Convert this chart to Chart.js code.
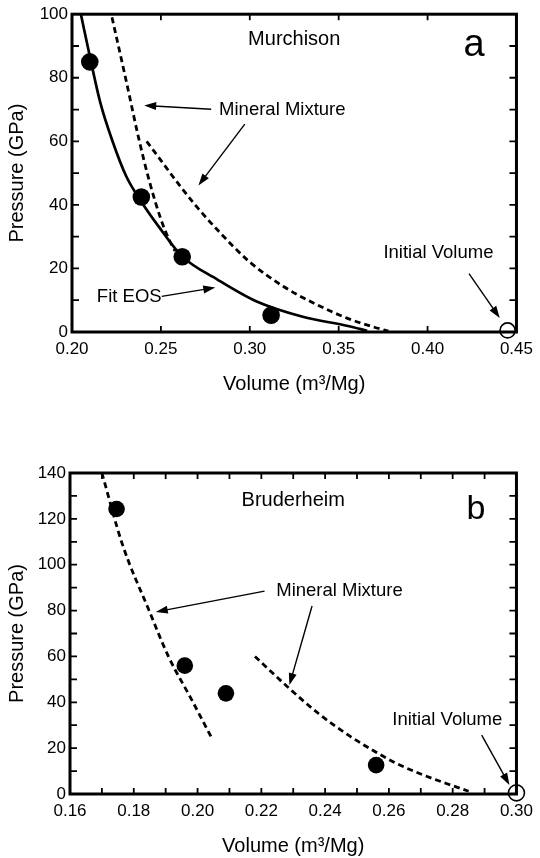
<!DOCTYPE html>
<html><head><meta charset="utf-8">
<script src="https://cdn.jsdelivr.net/npm/chart.js@4.4.1/dist/chart.umd.min.js"></script>
<style>
html,body{margin:0;padding:0;background:#fff;width:540px;height:858px;overflow:hidden}
#ca{position:absolute;left:0;top:0}
#cb{position:absolute;left:0;top:430px}
</style></head><body>
<canvas id="ca" width="540" height="400"></canvas>
<canvas id="cb" width="540" height="428"></canvas>
<script>
// ---------- Panel a : Murchison ----------
const murchisonVolume   = [0.210, 0.239, 0.262, 0.312];
const murchisonPressure = [85, 42.5, 23.7, 5.3];
const murchisonInitialVolume   = [0.445];
const murchisonInitialPressure = [0.5];
const fitEosVolume   = [0.2050, 0.2105, 0.2160, 0.2225, 0.2305, 0.2390, 0.2490, 0.2620, 0.2818, 0.3039, 0.3298, 0.3552, 0.3660];
const fitEosPressure = [100, 85.5, 72, 60.5, 49, 41, 33, 23.8, 16.5, 9.6, 4.8, 1.9, 0.4];
const mixtureA1Volume   = [0.2225, 0.2305, 0.2375, 0.2435, 0.2500, 0.2555, 0.2580];
const mixtureA1Pressure = [99, 79, 61, 47.5, 35.5, 28, 25.5];
const mixtureA2Volume   = [0.2420, 0.2500, 0.2600, 0.2700, 0.2820, 0.3000, 0.3190, 0.3370, 0.3550, 0.3700, 0.3780];
const mixtureA2Pressure = [60, 54, 46.5, 39.5, 32, 22, 14.3, 8.8, 4.3, 1.5, 0.3];

// ---------- Panel b : Bruderheim ----------
const bruderheimVolume   = [0.1746, 0.1960, 0.2089, 0.2560];
const bruderheimPressure = [124.3, 56, 43.9, 12.6];
const bruderheimInitialVolume   = [0.300];
const bruderheimInitialPressure = [0.5];
const mixtureB1Volume   = [0.1700, 0.1764, 0.1848, 0.1910, 0.1980, 0.2043];
const mixtureB1Pressure = [140, 109, 80, 59.6, 41.5, 24.8];
const mixtureB2Volume   = [0.2180, 0.2280, 0.2380, 0.2480, 0.2560, 0.2620, 0.2700, 0.2780, 0.2850];
const mixtureB2Pressure = [60, 47, 35, 25, 18.2, 13.6, 8.7, 4.6, 1.2];

// ---------- axis ticks ----------
const xTicksA = [0.20, 0.25, 0.30, 0.35, 0.40, 0.45];
const yTicksA = [0, 20, 40, 60, 80, 100];
const xTicksB = [0.16, 0.18, 0.20, 0.22, 0.24, 0.26, 0.28, 0.30];
const yTicksB = [0, 20, 40, 60, 80, 100, 120, 140];

const FONT = "'Liberation Sans', Arial, Helvetica, sans-serif";
Chart.defaults.font.family = FONT;
Chart.defaults.color = '#000';

function pts(xs, ys){ return xs.map((x,i)=>({x:x, y:ys[i]})); }

function lineDs(xs, ys, dashed, width){
  return {type:'scatter', data:pts(xs,ys), showLine:true, pointRadius:0, borderColor:'#000',
    borderWidth:width, borderDash: dashed ? [6,4] : [], cubicInterpolationMode:'monotone', fill:false, order:2};
}
function dotDs(xs, ys, r){
  return {type:'scatter', data:pts(xs,ys), pointRadius:r, pointBackgroundColor:'#000', pointBorderWidth:0, order:1};
}
function openDs(xs, ys, r){
  return {type:'scatter', data:pts(xs,ys), pointRadius:r, pointBackgroundColor:'rgba(0,0,0,0)',
    pointBorderColor:'#000', pointBorderWidth:1.6, clip:false, order:0};
}

function decorPlugin(texts, arrows){
  return {
    id:'decor',
    afterDatasetsDraw(chart){
      const ctx = chart.ctx, a = chart.chartArea, xs = chart.scales.x, ys = chart.scales.y;
      ctx.save();
      ctx.strokeStyle = '#000'; ctx.fillStyle = '#000';
      // inward tick marks on all four sides
      ctx.lineWidth = 1.8;
      xs.ticks.forEach(t=>{
        const p = xs.getPixelForValue(t.value);
        if (p < a.left+2 || p > a.right-2) return;
        ctx.beginPath(); ctx.moveTo(p, a.bottom); ctx.lineTo(p, a.bottom-6);
        ctx.moveTo(p, a.top); ctx.lineTo(p, a.top+6); ctx.stroke();
      });
      ys.ticks.forEach(t=>{
        const p = ys.getPixelForValue(t.value);
        if (p < a.top+2 || p > a.bottom-2) return;
        ctx.beginPath(); ctx.moveTo(a.left, p); ctx.lineTo(a.left+7, p);
        ctx.moveTo(a.right, p); ctx.lineTo(a.right-7, p); ctx.stroke();
      });
      // frame
      ctx.lineWidth = 3;
      ctx.strokeRect(a.left, a.top, a.right-a.left, a.bottom-a.top);
      // texts
      texts.forEach(t=>{
        ctx.font = t.size + 'px ' + FONT;
        ctx.textAlign = 'center';
        ctx.textBaseline = t.base || 'middle';
        ctx.fillText(t.t, xs.getPixelForValue(t.x), ys.getPixelForValue(t.y));
      });
      // arrows
      ctx.lineWidth = 1.4;
      arrows.forEach(r=>{
        const x1 = xs.getPixelForValue(r[0]), y1 = ys.getPixelForValue(r[1]);
        const x2 = xs.getPixelForValue(r[2]), y2 = ys.getPixelForValue(r[3]);
        const ang = Math.atan2(y2-y1, x2-x1), L = 12, W = 4;
        ctx.beginPath(); ctx.moveTo(x1,y1);
        ctx.lineTo(x2 - L*0.8*Math.cos(ang), y2 - L*0.8*Math.sin(ang)); ctx.stroke();
        ctx.beginPath(); ctx.moveTo(x2,y2);
        ctx.lineTo(x2 - L*Math.cos(ang) + W*Math.sin(ang), y2 - L*Math.sin(ang) - W*Math.cos(ang));
        ctx.lineTo(x2 - L*Math.cos(ang) - W*Math.sin(ang), y2 - L*Math.sin(ang) + W*Math.cos(ang));
        ctx.closePath(); ctx.fill();
      });
      ctx.restore();
    }
  };
}

function makeScales(xmin, xmax, xstep, xLabels, ymax, yLabels, yWidth, xHeight, titleBottomPad){
  return {
    x:{type:'linear', min:xmin, max:xmax,
      ticks:{stepSize:xstep, autoSkip:false, maxRotation:0, padding:7, font:{size:17},
        callback:(v)=>{ const m = xLabels.find(l=>Math.abs(l-v)<1e-6); return m===undefined ? '' : m.toFixed(2); }},
      grid:{display:false, drawTicks:false}, border:{display:false},
      title:{display:true, text:'Volume (m\u00B3/Mg)', font:{size:20}, padding:{top:0, bottom:titleBottomPad}},
      afterFit(s){ s.height = xHeight; }},
    y:{type:'linear', min:0, max:ymax,
      ticks:{stepSize:10, autoSkip:false, padding:4, font:{size:17},
        callback:(v)=>{ return yLabels.includes(Math.round(v)) && Math.abs(v-Math.round(v))<1e-6 ? String(Math.round(v)) : ''; }},
      grid:{display:false, drawTicks:false}, border:{display:false},
      title:{display:true, text:'Pressure (GPa)', font:{size:20}, padding:{top:5, bottom:0}},
      afterFit(s){ s.width = yWidth; }}
  };
}

const common = {responsive:false, animation:false, events:[],
  plugins:{legend:{display:false}, tooltip:{enabled:false}}};

// Panel a chart
new Chart(document.getElementById('ca'), {
  type:'scatter',
  data:{datasets:[
    lineDs(fitEosVolume, fitEosPressure, false, 2.7),
    lineDs(mixtureA1Volume, mixtureA1Pressure, true, 2.8),
    lineDs(mixtureA2Volume, mixtureA2Pressure, true, 2.8),
    dotDs(murchisonVolume, murchisonPressure, 8.8),
    openDs(murchisonInitialVolume, murchisonInitialPressure, 7.5)
  ]},
  options:Object.assign({}, common, {
    layout:{padding:{top:11, right:18, bottom:0, left:0}},
    scales: makeScales(0.20, 0.45, 0.05, xTicksA, 100, yTicksA, 72, 68, 4)
  }),
  plugins:[decorPlugin(
    [{t:'Murchison', x:0.325, y:92.2, size:20},
     {t:'a', x:0.4261, y:86.9, size:38, base:'alphabetic'},
     {t:'Mineral Mixture', x:0.3183, y:69.8, size:18.5},
     {t:'Fit EOS', x:0.2322, y:10.9, size:18.5},
     {t:'Initial Volume', x:0.4061, y:24.9, size:18.5}],
    [[0.2783, 70.1, 0.2406, 71.3],
     [0.2972, 65.4, 0.2711, 46.1],
     [0.2505, 11.2, 0.2806, 14.0],
     [0.4233, 18.4, 0.4406, 4.4]]
  )]
});

// Panel b chart
new Chart(document.getElementById('cb'), {
  type:'scatter',
  data:{datasets:[
    lineDs(mixtureB1Volume, mixtureB1Pressure, true, 2.8),
    lineDs(mixtureB2Volume, mixtureB2Pressure, true, 2.8),
    dotDs(bruderheimVolume, bruderheimPressure, 8.3),
    openDs(bruderheimInitialVolume, bruderheimInitialPressure, 8)
  ]},
  options:Object.assign({}, common, {
    layout:{padding:{top:43, right:18, bottom:0, left:0}},
    scales: makeScales(0.16, 0.30, 0.01, xTicksB, 140, yTicksB, 70, 64, 0)
  }),
  plugins:[decorPlugin(
    [{t:'Bruderheim', x:0.230, y:128.2, size:20},
     {t:'b', x:0.2873, y:119.9, size:34, base:'alphabetic'},
     {t:'Mineral Mixture', x:0.2445, y:88.5, size:18.5},
     {t:'Initial Volume', x:0.2783, y:32.3, size:18.5}],
    [[0.2210, 88.5, 0.1869, 79.4],
     [0.2359, 82.0, 0.2288, 47.5],
     [0.2891, 25.7, 0.2978, 3.9]]
  )]
});
</script>
</body></html>
